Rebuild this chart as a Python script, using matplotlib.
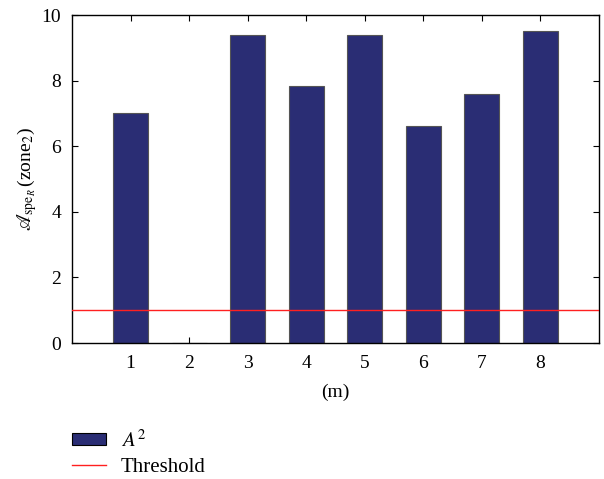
import matplotlib
matplotlib.use("Agg")
import matplotlib.pyplot as plt
from matplotlib.patches import Patch
from matplotlib.lines import Line2D

positions = [1, 2, 3, 4, 5, 6, 7, 8]
values = [7.0, 0.0, 9.38, 7.85, 9.38, 6.63, 7.58, 9.52]
threshold = 1.0
yticks = [0, 2, 4, 6, 8, 10]

plt.rcParams['font.family'] = ['Liberation Serif', 'DejaVu Serif']
plt.rcParams['mathtext.fontset'] = 'stix'

fig = plt.figure(figsize=(6.04, 4.79), dpi=100)
ax = fig.add_axes([72/604, 1-343/479, (599-72)/604, (343-15)/479])

bar_color = '#2a2d74'
ax.bar(positions, values, width=0.6, color=bar_color, edgecolor='#555555', linewidth=0.8, zorder=2)
ax.axhline(threshold, color='#ff2020', linewidth=1.0, zorder=3)

ax.set_xlim(0, 9)
ax.set_ylim(0, 10)
ax.set_xticks(positions)
ax.set_yticks(yticks)
ax.tick_params(direction='in', top=True, right=True, labelsize=14, length=4, width=0.8)
ax.tick_params(axis='x', pad=9)
ax.tick_params(axis='y', pad=8)
for s in ax.spines.values():
    s.set_linewidth(1.0)

ax.set_xlabel('(m)', fontsize=14, labelpad=8)
ax.set_ylabel(r'$\mathscr{A}_{\mathrm{spe}_R}\,$' + '(zone$_2$)', fontsize=14)
ax.yaxis.set_label_coords(-0.062, 0.5)

handles = [Patch(facecolor=bar_color, edgecolor='black', linewidth=0.8),
           Line2D([0], [0], color='#ff2020', linewidth=1.0)]
labels = [r'$A^2$', 'Threshold']
fig.legend(handles, labels, loc='upper left', bbox_to_anchor=(72/604, 1-430/479), frameon=False,
           fontsize=15, handlelength=1.65, handleheight=0.5, handletextpad=0.68,
           labelspacing=0.3, borderpad=0, borderaxespad=0)

fig.savefig('out.png', dpi=100)
